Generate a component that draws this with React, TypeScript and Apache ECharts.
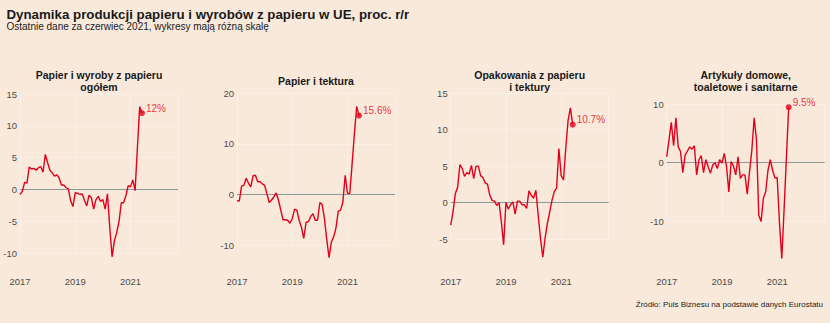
import React, { useEffect, useRef } from 'react';
import * as echarts from 'echarts';

// Monthly observations, Jan 2017 .. Jun 2021 (y/y change, %)
const firstYear = 2017;
const xTickYears = ['2017', '2019', '2021'];

const panelTitles = [
  'Papier i wyroby z papieru\nogółem',
  'Papier i tektura',
  'Opakowania z papieru\ni tektury',
  'Artykuły domowe,\ntoaletowe i sanitarne',
];

const paperTotal = [
  -0.8, -0.3, 1.1, 1.0, 3.5, 3.2, 3.3, 3.0, 3.4, 3.6, 2.7, 5.5,
  4.2, 3.0, 2.6, 2.1, 2.3, 1.8, 0.7, 0.7, 0.3, 0.1, -1.8, -2.7,
  -0.5, -0.6, -0.8, -0.7, -1.7, -2.6, -0.9, -1.3, -3.1, -1.6, -1.1, -1.9,
  -1.6, -3.1, -0.7, -6.0, -10.6, -8.1, -6.8, -5.1, -2.1, -2.1, -1.0, 0.6,
  0.4, 1.5, -0.2, 6.5, 13.0, 12.0,
];

const paperBoard = [
  -1.25, -1.3, 1.65, 1.8, 3.2, 2.2, 1.5, 3.7, 3.8, 2.5, 2.5, 2.1,
  1.8, 0.1, -1.6, -1.1, -0.5, 0.3, -1.1, -3.1, -5.0, -5.0, -5.1, -5.7,
  -4.8, -2.9, -3.1, -5.1, -6.5, -8.7, -5.5, -5.4, -4.4, -3.8, -5.1, -5.1,
  -1.6, -2.0, -4.8, -9.0, -12.5, -9.4, -8.4, -6.6, -3.3, -3.1, -1.5, 3.8,
  0.2, 0.2, 6.0, 12.0, 17.4, 15.6,
];

const packaging = [
  -3.1, -1.3, 1.2, 2.1, 5.2, 4.7, 3.6, 4.1, 3.9, 5.1, 3.3, 5.0,
  5.0, 3.7, 3.4, 2.7, 2.5, 1.0, 0.3, 0.2, -0.4, 0.0, -2.6, -5.8,
  0.0, -0.9, -0.3, 0.1, -1.6, 0.2, 0.2, -0.3, -0.3, -0.8, 1.6, 1.0,
  0.6, 1.7, -1.7, -4.9, -7.5, -4.9, -2.9, -1.3, 0.3, 1.5, 2.0, 7.4,
  3.7, 3.1, 7.5, 11.3, 13.0, 10.7,
];

const household = [
  1.0, 3.9, 6.9, 2.9, 7.7, 2.7, 1.9, -1.7, 1.3, 2.0, 2.7, 2.3,
  2.9, -2.1, 0.5, 1.2, -1.7, 0.5, -0.7, -1.8, -0.4, 0.0, -1.0, 0.5,
  -0.1, 1.6, -0.7, -5.0, 0.2, -0.6, -2.1, 1.0, -2.7, -2.1, -2.1, -5.4,
  -1.5, 2.2, 7.7, 3.9, -9.0, -10.1, -6.1, -5.0, -1.3, 0.5, -1.3, -2.6,
  -2.6, -10.4, -16.4, -8.0, 0.8, 9.5,
];

const panelSeries = [paperTotal, paperBoard, packaging, household];
const yMins = [-10, -10, -5, -10];
const yMaxs = [15, 20, 15, 10];
const yIntervals = [5, 10, 5, 10];

const FONT = '"Liberation Sans", Arial, Helvetica, sans-serif';
const RED = '#e2001a';
const BG = '#f9e9db';

// layout (pixels)
const gridLefts = [20, 237, 450.7, 666.7];
const gridTops = [94, 93.3, 93.3, 104.3];
const gridBottoms = [253, 245, 239, 221];
const gridWidth = 158;
const xLabelTop = 276.3;
const xMax = 2022.72;

export default function App() {
  const ref = useRef<HTMLDivElement>(null);

  useEffect(() => {
    if (!ref.current) return;
    const chart = echarts.init(ref.current, undefined, { renderer: 'svg' });

    const grids: any[] = [];
    const xAxes: any[] = [];
    const yAxes: any[] = [];
    const series: any[] = [];
    const graphics: any[] = [];

    panelSeries.forEach((vals, p) => {
      grids.push({
        left: gridLefts[p],
        top: gridTops[p],
        width: gridWidth,
        height: gridBottoms[p] - gridTops[p],
        containLabel: false,
      });
      xAxes.push({
        type: 'value',
        gridIndex: p,
        min: firstYear,
        max: xMax,
        interval: 2,
        axisLine: { show: false },
        axisTick: { show: false },
        splitLine: { show: true, lineStyle: { color: 'rgba(255,255,255,0.35)', width: 1 } },
        axisLabel: {
          margin: xLabelTop - gridBottoms[p],
          color: '#4d4d4d',
          fontSize: 9.5,
          fontFamily: FONT,
          formatter: (v: number) => {
            const s = String(Math.round(v));
            return Math.abs(v - Math.round(v)) < 1e-6 && xTickYears.includes(s) ? s : '';
          },
        },
      });
      yAxes.push({
        type: 'value',
        gridIndex: p,
        min: yMins[p],
        max: yMaxs[p],
        interval: yIntervals[p],
        axisLine: { show: false },
        axisTick: { show: false },
        splitLine: { show: true, lineStyle: { color: 'rgba(255,255,255,0.35)', width: 1 } },
        axisLabel: { margin: 3, color: '#4d4d4d', fontSize: 9.5, fontFamily: FONT },
      });
      const data = vals.map((v, i) => [firstYear + i / 12, v]);
      series.push({
        type: 'line',
        xAxisIndex: p,
        yAxisIndex: p,
        data,
        showSymbol: false,
        symbol: 'none',
        clip: false,
        lineStyle: { color: RED, width: 1.4 },
        markLine: {
          silent: true,
          symbol: 'none',
          label: { show: false },
          lineStyle: { color: '#8c979c', width: 1, type: 'solid' },
          data: [{ yAxis: 0 }],
          z: 1,
        },
        z: 3,
      });
      const last = data[data.length - 1];
      series.push({
        type: 'scatter',
        xAxisIndex: p,
        yAxisIndex: p,
        data: [last],
        symbol: 'circle',
        symbolSize: 6,
        clip: false,
        itemStyle: { color: RED },
        label: {
          show: true,
          position: 'right',
          distance: 1,
          offset: [0, -5],
          color: RED,
          fontSize: 10,
          fontFamily: FONT,
          formatter: () => `${last[1]}%`,
        },
        z: 4,
      });
      graphics.push({
        type: 'text',
        x: gridLefts[p] + gridWidth / 2,
        y: 81,
        style: {
          text: panelTitles[p],
          textAlign: 'center',
          textVerticalAlign: 'middle',
          fontFamily: FONT,
          fontWeight: 'bold',
          fontSize: 10.5,
          lineHeight: 12,
          fill: '#1a1a1a',
        },
      });
    });

    graphics.push(
      {
        type: 'text',
        x: 6.5,
        y: 14.5,
        style: {
          text: 'Dynamika produkcji papieru i wyrobów z papieru w UE, proc. r/r',
          textVerticalAlign: 'middle',
          fontFamily: FONT,
          fontWeight: 'bold',
          fontSize: 13.3,
          fill: '#1a1a1a',
        },
      },
      {
        type: 'text',
        x: 6.5,
        y: 26.5,
        style: {
          text: 'Ostatnie dane za czerwiec 2021, wykresy mają różną skalę',
          textVerticalAlign: 'middle',
          fontFamily: FONT,
          fontSize: 10,
          fill: '#1a1a1a',
        },
      },
      {
        type: 'text',
        x: 823,
        y: 304.5,
        style: {
          text: 'Źródło: Puls Biznesu na podstawie danych Eurostatu',
          textAlign: 'right',
          textVerticalAlign: 'middle',
          fontFamily: FONT,
          fontSize: 8,
          fill: '#1a1a1a',
        },
      }
    );

    chart.setOption({
      animation: false,
      backgroundColor: BG,
      grid: grids,
      xAxis: xAxes,
      yAxis: yAxes,
      series,
      graphic: graphics,
    });

    return () => chart.dispose();
  }, []);

  return (
    <div
      ref={ref}
      style={{ position: 'fixed', left: 0, top: 0, width: 830, height: 323 }}
    />
  );
}
